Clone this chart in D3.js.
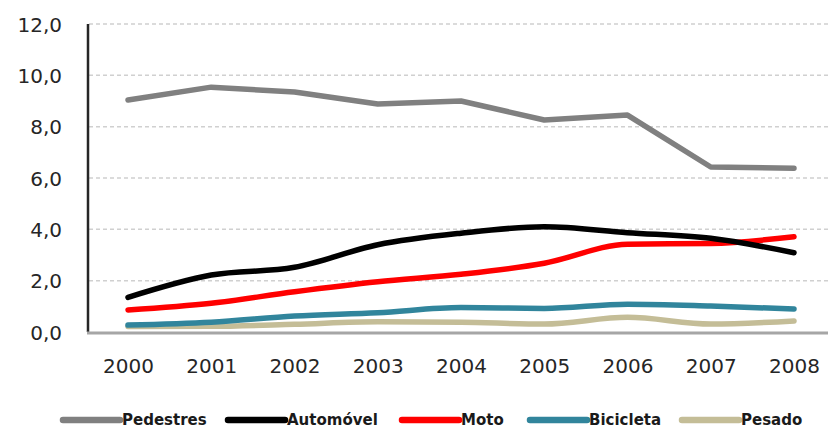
<!DOCTYPE html>
<html><head><meta charset="utf-8">
<script src="https://cdn.jsdelivr.net/npm/d3@7"></script>
<style>body{margin:0;background:#fff}svg{display:block}</style>
</head><body>
<script>
const years = ["2000","2001","2002","2003","2004","2005","2006","2007","2008"];
const seriesNames = ["Pedestres","Automóvel","Moto","Bicicleta","Pesado"];
const pedestres = [9.04, 9.54, 9.35, 8.88, 9.0, 8.26, 8.45, 6.43, 6.38];
const automovel = [1.35, 2.22, 2.52, 3.40, 3.85, 4.10, 3.87, 3.65, 3.09];
const moto      = [0.86, 1.12, 1.57, 1.96, 2.25, 2.68, 3.42, 3.45, 3.71];
const bicicleta = [0.27, 0.38, 0.62, 0.75, 0.95, 0.92, 1.08, 1.01, 0.90];
const pesado    = [0.21, 0.22, 0.30, 0.40, 0.38, 0.31, 0.57, 0.31, 0.43];
const yTicks = [0, 2, 4, 6, 8, 10, 12];
const colors = ["#808080", "#000000", "#ff0000", "#31859c", "#c4bd97"];

const seriesValues = [pedestres, automovel, moto, bicicleta, pesado];
const W = 828, H = 428;
const svg = d3.select("body").append("svg").attr("width", W).attr("height", H);

const x = d3.scalePoint().domain(years).range([128, 794]);
const y = d3.scaleLinear().domain([0, 12]).range([332, 24]);

// gridlines
svg.append("g").selectAll("line").data(yTicks.filter(d => d > 0)).join("line")
  .attr("x1", 89).attr("x2", 828)
  .attr("y1", d => y(d)).attr("y2", d => y(d))
  .attr("stroke", "#d0d0d0").attr("stroke-width", 1.5).attr("stroke-dasharray", "4,3");

// y axis
const yAxis = d3.axisLeft(y).tickValues(yTicks).tickSize(0).tickPadding(0)
  .tickFormat(d => d3.format(".1f")(d).replace(".", ","));
const gy = svg.append("g").attr("transform", "translate(62,0)").call(yAxis);
gy.select(".domain").remove();
gy.selectAll("text").attr("font-family", "DejaVu Sans").attr("font-size", 20).attr("fill", "#262626").attr("dy", "0.35em");

svg.append("line").attr("x1", 88).attr("x2", 88).attr("y1", y(12)).attr("y2", y(0))
  .attr("stroke", "#262626").attr("stroke-width", 2.5);

// x axis
svg.append("line").attr("x1", 87).attr("x2", 828).attr("y1", y(0) + 1).attr("y2", y(0) + 1)
  .attr("stroke", "#a6a6a6").attr("stroke-width", 3);
const xAxis = d3.axisBottom(x).tickSize(0).tickPadding(0);
const gx = svg.append("g").attr("transform", "translate(0,366)").call(xAxis);
gx.select(".domain").remove();
gx.selectAll("text").attr("font-family", "DejaVu Sans").attr("font-size", 20).attr("fill", "#262626").attr("dy", "0.35em");

// lines
const order = [4, 3, 2, 1, 0];
order.forEach(i => {
  const line = d3.line()
    .x((d, j) => x(years[j]))
    .y(d => y(d))
    .curve(i === 0 ? d3.curveLinear : d3.curveMonotoneX);
  svg.append("path").datum(seriesValues[i]).attr("d", line)
    .attr("fill", "none").attr("stroke", colors[i]).attr("stroke-width", 5.5)
    .attr("stroke-linejoin", "round").attr("stroke-linecap", "round");
});

// legend
const legendX = [63, 228, 402, 530, 682];
const lg = svg.append("g");
seriesNames.forEach((name, i) => {
  lg.append("line").attr("x1", legendX[i]).attr("x2", legendX[i] + 57)
    .attr("y1", 420).attr("y2", 420).attr("stroke", colors[i]).attr("stroke-width", 6.5)
    .attr("stroke-linecap", "round");
  lg.append("text").attr("x", legendX[i] + 59).attr("y", 420).attr("dy", "0.35em")
    .attr("font-family", "DejaVu Sans").attr("font-weight", "bold").attr("font-size", 15)
    .attr("fill", "#1a1a1a").text(name);
});
</script>
</body></html>
